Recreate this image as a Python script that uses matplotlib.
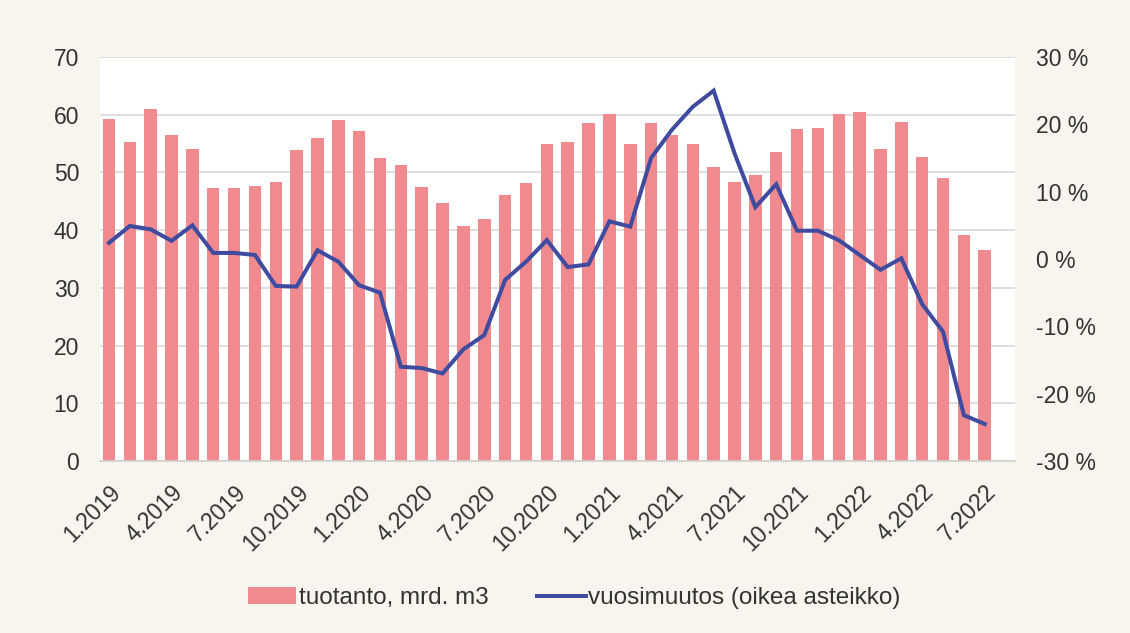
import matplotlib
matplotlib.use("Agg")
import matplotlib.pyplot as plt
from matplotlib.ticker import FuncFormatter

months = [f"{m}.{y}" for y in range(2019, 2023) for m in range(1, 13)][:43]

production = [59.3, 55.2, 61.0, 56.5, 54.0, 47.3, 47.3, 47.7, 48.4, 53.8,
              56.0, 59.0, 57.1, 52.5, 51.2, 47.4, 44.7, 40.8, 41.9, 46.0,
              48.2, 55.0, 55.2, 58.6, 60.2, 55.0, 58.6, 56.4, 55.0, 51.0,
              48.4, 49.5, 53.6, 57.5, 57.7, 60.1, 60.5, 54.1, 58.8, 52.7,
              49.0, 39.2, 36.6]

yoy_change = [2.4, 4.9, 4.4, 2.7, 5.0, 0.9, 0.9, 0.6, -4.0, -4.1,
              1.3, -0.4, -3.9, -5.0, -16.0, -16.2, -17.0, -13.4, -11.3, -3.1,
              -0.4, 2.8, -1.2, -0.8, 5.6, 4.8, 15.0, 19.2, 22.6, 25.0,
              15.7, 7.7, 11.1, 4.2, 4.2, 2.8, 0.6, -1.6, 0.1, -6.7,
              -10.8, -23.2, -24.5]

left_ticks = [0, 10, 20, 30, 40, 50, 60, 70]
right_ticks = [-30, -20, -10, 0, 10, 20, 30]

bar_color = "#f08a8f"
line_color = "#3f4b9f"
bg = "#f8f4ee"
txt = "#333333"

plt.rcParams['font.family'] = ['Liberation Sans', 'DejaVu Sans']

fig = plt.figure(figsize=(11.3, 6.33), dpi=100, facecolor=bg)
ax = fig.add_axes([0.0885, 0.2717, 0.8095, 0.6383])
ax.set_facecolor("white")

x = list(range(len(months)))
ax.bar(x, production, width=0.6, color=bar_color, zorder=2,
       label="tuotanto, mrd. m3")
ax.set_ylim(0, 70)
ax.set_yticks(left_ticks)
ax.set_xlim(-0.43, 43.44)
ax.grid(axis='y', color="#d9d9d9", linewidth=1.2, zorder=0)
ax.set_axisbelow(True)

for s in ['top', 'right', 'left']:
    ax.spines[s].set_visible(False)
ax.spines['bottom'].set_color("#d0d0d0")
ax.spines['bottom'].set_linewidth(1.2)

ax.set_xticks(x[::3])
ax.set_xticklabels(months[::3], rotation=45, ha='right', rotation_mode='anchor',
                   fontsize=16.5, color=txt)
ax.tick_params(axis='x', length=0, pad=14)
ax.tick_params(axis='y', length=0, labelsize=16.5, labelcolor=txt, pad=15)

ax2 = ax.twinx()
ax2.plot(x, yoy_change, color=line_color, linewidth=2.9, zorder=3,
         label="vuosimuutos (oikea asteikko)", solid_joinstyle='miter')
ax2.set_ylim(-30, 30)
ax2.set_yticks(right_ticks)
ax2.yaxis.set_major_formatter(FuncFormatter(lambda v, p: f"{int(v)} %"))
ax2.tick_params(axis='y', length=0, labelsize=16.5, labelcolor=txt, pad=15)
for s in ax2.spines.values():
    s.set_visible(False)

h1, l1 = ax.get_legend_handles_labels()
h2, l2 = ax2.get_legend_handles_labels()
leg = fig.legend(h1 + h2, l1 + l2, loc='center', bbox_to_anchor=(0.508, 0.055),
                 ncol=2, frameon=False, fontsize=17.5, handlelength=2.0,
                 handletextpad=0.1, columnspacing=2.0, labelcolor=txt)

fig.savefig("out.png", dpi=100, facecolor=bg)
